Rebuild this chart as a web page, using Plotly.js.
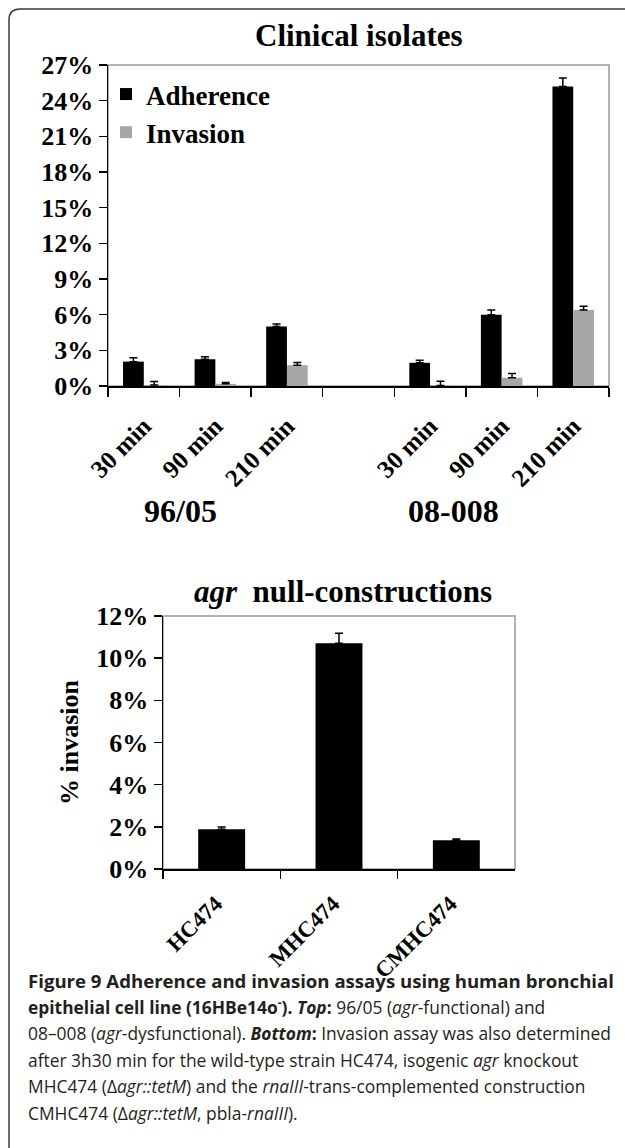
<!DOCTYPE html>
<html><head><meta charset="utf-8">
<script src="https://cdn.plot.ly/plotly-3.0.1.min.js"></script>
<style>html,body{margin:0;padding:0;background:#fff}#chart{width:625px;height:1148px}</style>
</head><body><div id="chart"></div>
<script>
// ---- data (percent) ----
const strains = ['96/05', '08-008'];
const timeLabels = ['30 min', '90 min', '210 min'];
const adherence    = [2.05, 2.25, 5.00, 1.95, 6.00, 25.2];
const adherenceErr = [0.33, 0.20, 0.22, 0.22, 0.40, 0.70];
const invasion     = [0.08, 0.18, 1.75, 0.05, 0.70, 6.40];
const invasionErr  = [0.30, 0.12, 0.22, 0.35, 0.35, 0.30];

const constructs = ['HC474', 'MHC474', 'CMHC474'];
const constructInvasion    = [1.89, 10.71, 1.36];
const constructInvasionErr = [0.10, 0.47, 0.06];

const captionLines = [
  '<b>Figure 9 Adherence and invasion assays using human bronchial</b>',
  '<b>epithelial cell line (16HBe14o<sup>-</sup>). <i>Top</i>:</b> 96/05 (<i>agr</i>-functional) and',
  '08–008 (<i>agr</i>-dysfunctional). <b><i>Bottom</i>:</b> Invasion assay was also determined',
  'after 3h30 min for the wild-type strain HC474, isogenic <i>agr</i> knockout',
  'MHC474 (Δ<i>agr::tetM</i>) and the <i>rnaIII</i>-trans-complemented construction',
  'CMHC474 (Δ<i>agr::tetM</i>, pbla-<i>rnaIII</i>).'
];

// ---- helpers ----
const W = 625, H = 1148;
const px = v => v / W;
const py = v => 1 - v / H;
const SERIF = 'Liberation Serif, Times New Roman, serif';
const SANS = 'Open Sans, Noto Sans, sans-serif';

const keys = strains.flatMap(s => timeLabels.map(t => s + ' · ' + t));
const gapKey = ' ';
const catArray = [...keys.slice(0, 3), gapKey, ...keys.slice(3)];
const tickText = [...timeLabels, ' ', ...timeLabels];

const errStyle = {color: '#000', thickness: 1.5, width: 4};

const traces = [
  {type: 'bar', name: 'Adherence', x: keys, y: adherence, xaxis: 'x', yaxis: 'y',
   marker: {color: '#000'},
   error_y: Object.assign({type: 'data', symmetric: false, array: adherenceErr, arrayminus: adherence.map(() => 0)}, errStyle)},
  {type: 'bar', name: 'Invasion', x: keys, y: invasion, xaxis: 'x', yaxis: 'y',
   marker: {color: '#a6a6a6'},
   error_y: Object.assign({type: 'data', symmetric: false, array: invasionErr, arrayminus: invasion.map(() => 0)}, errStyle)},
  {type: 'bar', name: '% invasion', x: constructs, y: constructInvasion, xaxis: 'x2', yaxis: 'y2',
   width: 0.4, showlegend: false, marker: {color: '#000'},
   error_y: Object.assign({type: 'data', symmetric: false, array: constructInvasionErr, arrayminus: constructInvasion.map(() => 0)}, errStyle)}
];

const tickFont = {family: SERIF, size: 26, weight: 'bold', color: '#000'};
const axisCommon = {showline: true, linecolor: '#000', linewidth: 1.5, ticks: 'outside',
  tickcolor: '#000', tickwidth: 1.5, showgrid: false, zeroline: false, tickfont: tickFont, fixedrange: true};

const annotations = [
  {text: '<b>Clinical isolates</b>', xref: 'paper', yref: 'paper', x: px(358.5), y: py(36),
   xanchor: 'center', yanchor: 'middle', showarrow: false, font: {family: SERIF, size: 31, color: '#000'}},
  {text: '<b>' + strains[0] + '</b>', xref: 'x', yref: 'paper', x: keys[1], xshift: -35, y: py(511),
   xanchor: 'center', yanchor: 'middle', showarrow: false, font: {family: SERIF, size: 32, color: '#000'}},
  {text: '<b>' + strains[1] + '</b>', xref: 'x', yref: 'paper', x: keys[4], xshift: -48, y: py(511),
   xanchor: 'center', yanchor: 'middle', showarrow: false, font: {family: SERIF, size: 32, color: '#000'}},
  {text: '<b><i>agr</i>\u00a0 null-constructions</b>', xref: 'paper', yref: 'paper', x: px(343), y: py(591),
   xanchor: 'center', yanchor: 'middle', showarrow: false, font: {family: SERIF, size: 31, color: '#000'}}
];
captionLines.forEach((t, i) => annotations.push({
  text: t, xref: 'paper', yref: 'paper', x: px(26), y: py(980 + i * 26.6),
  xanchor: 'left', yanchor: 'middle', align: 'left', showarrow: false,
  font: {family: SANS, size: i === 0 ? 18.6 : 17.4, color: '#231f20'}
}));

const layout = {
  width: W, height: H, margin: {l: 0, r: 0, t: 0, b: 0},
  paper_bgcolor: '#fff', plot_bgcolor: '#fff',
  barmode: 'group', bargap: 0.42, bargroupgap: 0,
  showlegend: true,
  legend: {x: px(106), y: py(70), xanchor: 'left', yanchor: 'top', bgcolor: 'rgba(0,0,0,0)',
    font: {family: SERIF, size: 27, weight: 'bold', color: '#000'}, tracegroupgap: 0},
  xaxis: Object.assign({}, axisCommon, {domain: [px(108), px(609)], anchor: 'y', type: 'category',
    categoryorder: 'array', categoryarray: catArray, tickmode: 'array', tickvals: catArray, ticktext: tickText,
    range: [-0.5, 6.5], tickangle: -45, tickson: 'boundaries', ticklen: 9, ticklabelstandoff: 14,
    tickfont: Object.assign({}, tickFont, {size: 25})}),
  yaxis: Object.assign({}, axisCommon, {domain: [py(386), py(65)], anchor: 'x', range: [0, 27],
    tick0: 0, dtick: 3, ticksuffix: '%', ticklen: 8}),
  xaxis2: Object.assign({}, axisCommon, {domain: [px(163), px(515)], anchor: 'y2', type: 'category',
    categoryorder: 'array', categoryarray: constructs, range: [-0.5, 2.5], tickangle: -45,
    tickson: 'boundaries', ticklen: 8, ticklabelstandoff: 11, ticklabelshift: -6,
    tickfont: Object.assign({}, tickFont, {size: 22.5})}),
  yaxis2: Object.assign({}, axisCommon, {domain: [py(869), py(616)], anchor: 'x2', range: [0, 12],
    tick0: 0, dtick: 2, ticksuffix: '%', ticklen: 8,
    title: {text: '% invasion', font: {family: SERIF, size: 26, weight: 'bold', color: '#000'}, standoff: 10}}),
  shapes: [
    {type: 'rect', xref: 'x domain', yref: 'y domain', x0: 0, x1: 1, y0: 0, y1: 1,
     line: {color: '#9a9a9a', width: 1.5}, layer: 'below'},
    {type: 'rect', xref: 'x2 domain', yref: 'y2 domain', x0: 0, x1: 1, y0: 0, y1: 1,
     line: {color: '#9a9a9a', width: 1.5}, layer: 'below'},
    {type: 'path', xref: 'paper', yref: 'paper',
     path: `M ${px(9)} -0.05 L ${px(9)} ${py(20)} Q ${px(9)} ${py(9)} ${px(20)} ${py(9)} L 1.05 ${py(9)}`,
     line: {color: '#3a3a3a', width: 1.5}}
  ],
  annotations: annotations
};

Plotly.newPlot('chart', traces, layout, {displayModeBar: false, staticPlot: true});
</script></body></html>
